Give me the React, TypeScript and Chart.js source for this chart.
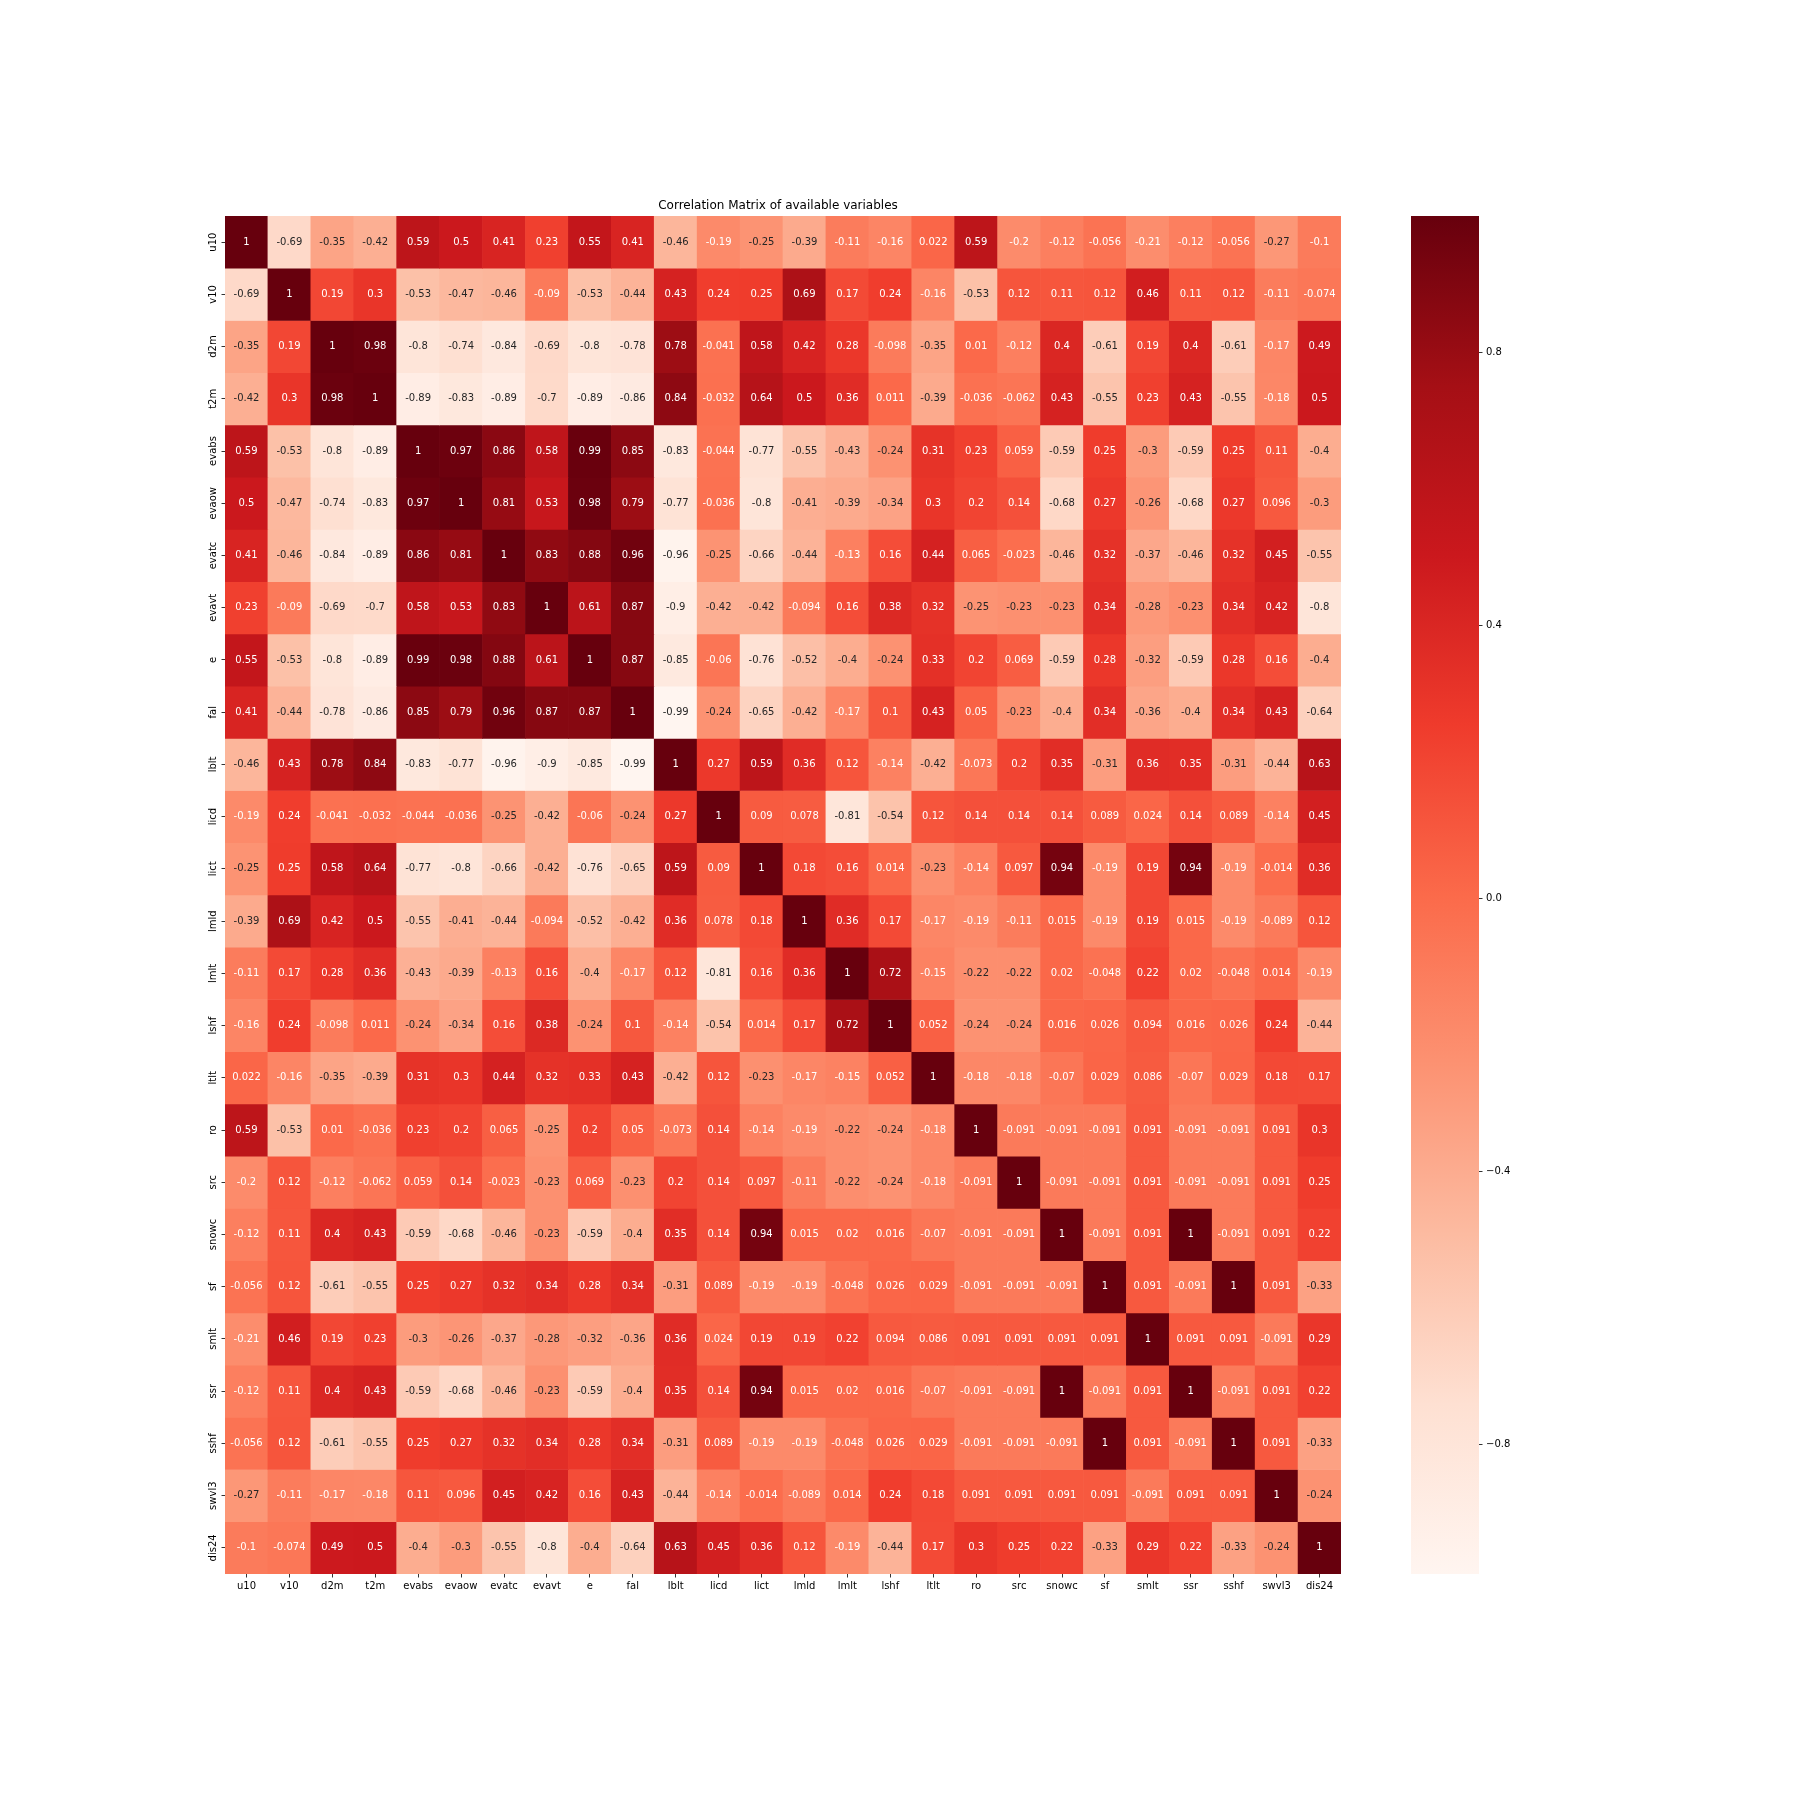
import React, { useEffect, useRef } from 'react';
import { Chart, registerables } from 'chart.js';

Chart.register(...registerables);

// ---------------- data ----------------
const variables = ['u10', 'v10', 'd2m', 't2m', 'evabs', 'evaow', 'evatc', 'evavt', 'e', 'fal', 'lblt', 'licd', 'lict', 'lmld', 'lmlt', 'lshf', 'ltlt', 'ro', 'src', 'snowc', 'sf', 'smlt', 'ssr', 'sshf', 'swvl3', 'dis24'];

const rowU10 = [1, -0.69, -0.35, -0.42, 0.59, 0.5, 0.41, 0.23, 0.55, 0.41, -0.46, -0.19, -0.25, -0.39, -0.11, -0.16, 0.022, 0.59, -0.2, -0.12, -0.056, -0.21, -0.12, -0.056, -0.27, -0.1];
const rowV10 = [-0.69, 1, 0.19, 0.3, -0.53, -0.47, -0.46, -0.09, -0.53, -0.44, 0.43, 0.24, 0.25, 0.69, 0.17, 0.24, -0.16, -0.53, 0.12, 0.11, 0.12, 0.46, 0.11, 0.12, -0.11, -0.074];
const rowD2m = [-0.35, 0.19, 1, 0.98, -0.8, -0.74, -0.84, -0.69, -0.8, -0.78, 0.78, -0.041, 0.58, 0.42, 0.28, -0.098, -0.35, 0.01, -0.12, 0.4, -0.61, 0.19, 0.4, -0.61, -0.17, 0.49];
const rowT2m = [-0.42, 0.3, 0.98, 1, -0.89, -0.83, -0.89, -0.7, -0.89, -0.86, 0.84, -0.032, 0.64, 0.5, 0.36, 0.011, -0.39, -0.036, -0.062, 0.43, -0.55, 0.23, 0.43, -0.55, -0.18, 0.5];
const rowEvabs = [0.59, -0.53, -0.8, -0.89, 1, 0.97, 0.86, 0.58, 0.99, 0.85, -0.83, -0.044, -0.77, -0.55, -0.43, -0.24, 0.31, 0.23, 0.059, -0.59, 0.25, -0.3, -0.59, 0.25, 0.11, -0.4];
const rowEvaow = [0.5, -0.47, -0.74, -0.83, 0.97, 1, 0.81, 0.53, 0.98, 0.79, -0.77, -0.036, -0.8, -0.41, -0.39, -0.34, 0.3, 0.2, 0.14, -0.68, 0.27, -0.26, -0.68, 0.27, 0.096, -0.3];
const rowEvatc = [0.41, -0.46, -0.84, -0.89, 0.86, 0.81, 1, 0.83, 0.88, 0.96, -0.96, -0.25, -0.66, -0.44, -0.13, 0.16, 0.44, 0.065, -0.023, -0.46, 0.32, -0.37, -0.46, 0.32, 0.45, -0.55];
const rowEvavt = [0.23, -0.09, -0.69, -0.7, 0.58, 0.53, 0.83, 1, 0.61, 0.87, -0.9, -0.42, -0.42, -0.094, 0.16, 0.38, 0.32, -0.25, -0.23, -0.23, 0.34, -0.28, -0.23, 0.34, 0.42, -0.8];
const rowE = [0.55, -0.53, -0.8, -0.89, 0.99, 0.98, 0.88, 0.61, 1, 0.87, -0.85, -0.06, -0.76, -0.52, -0.4, -0.24, 0.33, 0.2, 0.069, -0.59, 0.28, -0.32, -0.59, 0.28, 0.16, -0.4];
const rowFal = [0.41, -0.44, -0.78, -0.86, 0.85, 0.79, 0.96, 0.87, 0.87, 1, -0.99, -0.24, -0.65, -0.42, -0.17, 0.1, 0.43, 0.05, -0.23, -0.4, 0.34, -0.36, -0.4, 0.34, 0.43, -0.64];
const rowLblt = [-0.46, 0.43, 0.78, 0.84, -0.83, -0.77, -0.96, -0.9, -0.85, -0.99, 1, 0.27, 0.59, 0.36, 0.12, -0.14, -0.42, -0.073, 0.2, 0.35, -0.31, 0.36, 0.35, -0.31, -0.44, 0.63];
const rowLicd = [-0.19, 0.24, -0.041, -0.032, -0.044, -0.036, -0.25, -0.42, -0.06, -0.24, 0.27, 1, 0.09, 0.078, -0.81, -0.54, 0.12, 0.14, 0.14, 0.14, 0.089, 0.024, 0.14, 0.089, -0.14, 0.45];
const rowLict = [-0.25, 0.25, 0.58, 0.64, -0.77, -0.8, -0.66, -0.42, -0.76, -0.65, 0.59, 0.09, 1, 0.18, 0.16, 0.014, -0.23, -0.14, 0.097, 0.94, -0.19, 0.19, 0.94, -0.19, -0.014, 0.36];
const rowLmld = [-0.39, 0.69, 0.42, 0.5, -0.55, -0.41, -0.44, -0.094, -0.52, -0.42, 0.36, 0.078, 0.18, 1, 0.36, 0.17, -0.17, -0.19, -0.11, 0.015, -0.19, 0.19, 0.015, -0.19, -0.089, 0.12];
const rowLmlt = [-0.11, 0.17, 0.28, 0.36, -0.43, -0.39, -0.13, 0.16, -0.4, -0.17, 0.12, -0.81, 0.16, 0.36, 1, 0.72, -0.15, -0.22, -0.22, 0.02, -0.048, 0.22, 0.02, -0.048, 0.014, -0.19];
const rowLshf = [-0.16, 0.24, -0.098, 0.011, -0.24, -0.34, 0.16, 0.38, -0.24, 0.1, -0.14, -0.54, 0.014, 0.17, 0.72, 1, 0.052, -0.24, -0.24, 0.016, 0.026, 0.094, 0.016, 0.026, 0.24, -0.44];
const rowLtlt = [0.022, -0.16, -0.35, -0.39, 0.31, 0.3, 0.44, 0.32, 0.33, 0.43, -0.42, 0.12, -0.23, -0.17, -0.15, 0.052, 1, -0.18, -0.18, -0.07, 0.029, 0.086, -0.07, 0.029, 0.18, 0.17];
const rowRo = [0.59, -0.53, 0.01, -0.036, 0.23, 0.2, 0.065, -0.25, 0.2, 0.05, -0.073, 0.14, -0.14, -0.19, -0.22, -0.24, -0.18, 1, -0.091, -0.091, -0.091, 0.091, -0.091, -0.091, 0.091, 0.3];
const rowSrc = [-0.2, 0.12, -0.12, -0.062, 0.059, 0.14, -0.023, -0.23, 0.069, -0.23, 0.2, 0.14, 0.097, -0.11, -0.22, -0.24, -0.18, -0.091, 1, -0.091, -0.091, 0.091, -0.091, -0.091, 0.091, 0.25];
const rowSnowc = [-0.12, 0.11, 0.4, 0.43, -0.59, -0.68, -0.46, -0.23, -0.59, -0.4, 0.35, 0.14, 0.94, 0.015, 0.02, 0.016, -0.07, -0.091, -0.091, 1, -0.091, 0.091, 1, -0.091, 0.091, 0.22];
const rowSf = [-0.056, 0.12, -0.61, -0.55, 0.25, 0.27, 0.32, 0.34, 0.28, 0.34, -0.31, 0.089, -0.19, -0.19, -0.048, 0.026, 0.029, -0.091, -0.091, -0.091, 1, 0.091, -0.091, 1, 0.091, -0.33];
const rowSmlt = [-0.21, 0.46, 0.19, 0.23, -0.3, -0.26, -0.37, -0.28, -0.32, -0.36, 0.36, 0.024, 0.19, 0.19, 0.22, 0.094, 0.086, 0.091, 0.091, 0.091, 0.091, 1, 0.091, 0.091, -0.091, 0.29];
const rowSsr = [-0.12, 0.11, 0.4, 0.43, -0.59, -0.68, -0.46, -0.23, -0.59, -0.4, 0.35, 0.14, 0.94, 0.015, 0.02, 0.016, -0.07, -0.091, -0.091, 1, -0.091, 0.091, 1, -0.091, 0.091, 0.22];
const rowSshf = [-0.056, 0.12, -0.61, -0.55, 0.25, 0.27, 0.32, 0.34, 0.28, 0.34, -0.31, 0.089, -0.19, -0.19, -0.048, 0.026, 0.029, -0.091, -0.091, -0.091, 1, 0.091, -0.091, 1, 0.091, -0.33];
const rowSwvl3 = [-0.27, -0.11, -0.17, -0.18, 0.11, 0.096, 0.45, 0.42, 0.16, 0.43, -0.44, -0.14, -0.014, -0.089, 0.014, 0.24, 0.18, 0.091, 0.091, 0.091, 0.091, -0.091, 0.091, 0.091, 1, -0.24];
const rowDis24 = [-0.1, -0.074, 0.49, 0.5, -0.4, -0.3, -0.55, -0.8, -0.4, -0.64, 0.63, 0.45, 0.36, 0.12, -0.19, -0.44, 0.17, 0.3, 0.25, 0.22, -0.33, 0.29, 0.22, -0.33, -0.24, 1];

const matrix = [rowU10, rowV10, rowD2m, rowT2m, rowEvabs, rowEvaow, rowEvatc, rowEvavt, rowE, rowFal, rowLblt, rowLicd, rowLict, rowLmld, rowLmlt, rowLshf, rowLtlt, rowRo, rowSrc, rowSnowc, rowSf, rowSmlt, rowSsr, rowSshf, rowSwvl3, rowDis24];

const colorbarTicks = [-0.8, -0.4, 0, 0.4, 0.8];
const chartTitle = 'Correlation Matrix of available variables';

// matplotlib "Reds" colormap anchor colours
const redsStops = ['#fff5f0', '#fee0d2', '#fcbba1', '#fc9272', '#fb6a4a', '#ef3b2c', '#cb181d', '#a50f15', '#67000d'];

const VMIN = Math.min(...matrix.map((r) => Math.min(...r)));
const VMAX = Math.max(...matrix.map((r) => Math.max(...r)));

const FONT = "'DejaVu Sans', 'Liberation Sans', sans-serif";

// ---------------- colour helpers ----------------
function hexToRgb(h: string): number[] {
  return [parseInt(h.slice(1, 3), 16), parseInt(h.slice(3, 5), 16), parseInt(h.slice(5, 7), 16)];
}
const stopRgb = redsStops.map(hexToRgb);

function redsRgb(t: number): number[] {
  let idx = Math.floor(t * 256);
  if (idx > 255) idx = 255;
  if (idx < 0) idx = 0;
  const x = (idx / 255) * 8;
  const k = Math.min(Math.floor(x), 7);
  const f = x - k;
  const a = stopRgb[k];
  const b = stopRgb[k + 1];
  return [0, 1, 2].map((c) => a[c] + (b[c] - a[c]) * f);
}

function cellRgb(v: number): number[] {
  return redsRgb((v - VMIN) / (VMAX - VMIN));
}

function cellColor(v: number): string {
  const [r, g, b] = cellRgb(v);
  return `rgb(${Math.round(r)}, ${Math.round(g)}, ${Math.round(b)})`;
}

function textColor(v: number): string {
  const lin = cellRgb(v).map((c) => {
    const s = c / 255;
    return s <= 0.03928 ? s / 12.92 : Math.pow((s + 0.055) / 1.055, 2.4);
  });
  const lum = 0.2126 * lin[0] + 0.7152 * lin[1] + 0.0722 * lin[2];
  return lum > 0.408 ? '#262626' : '#ffffff';
}

// ---------------- plugins ----------------
const annotationPlugin = {
  id: 'cellAnnotations',
  afterDatasetsDraw(chart: any) {
    const ctx = chart.ctx;
    ctx.save();
    ctx.font = `10px ${FONT}`;
    ctx.textAlign = 'center';
    ctx.textBaseline = 'middle';
    matrix.forEach((row, j) => {
      const meta = chart.getDatasetMeta(j);
      meta.data.forEach((bar: any, i: number) => {
        const p = bar.getProps(['x', 'y', 'base'], true);
        ctx.fillStyle = textColor(row[i]);
        ctx.fillText(String(row[i]), p.x, (p.y + p.base) / 2);
      });
    });
    ctx.restore();
  },
};

const yLabelPlugin = {
  id: 'rotatedYLabels',
  afterDraw(chart: any) {
    const ctx = chart.ctx;
    const scale = chart.scales.y;
    ctx.save();
    ctx.font = `10px ${FONT}`;
    ctx.fillStyle = '#000000';
    ctx.textAlign = 'center';
    ctx.textBaseline = 'alphabetic';
    const xBase = chart.chartArea.left - 9;
    scale.ticks.forEach((t: any, i: number) => {
      const y = scale.getPixelForValue(t.value);
      ctx.save();
      ctx.translate(xBase, y);
      ctx.rotate(-Math.PI / 2);
      ctx.fillText(variables[i], 0, 0);
      ctx.restore();
    });
    ctx.restore();
  },
};

function colorbarFill(c: any) {
  const ch = c.chart;
  const y = ch && ch.scales ? ch.scales.y : null;
  if (!y) return redsStops[4];
  const bottom = y.getPixelForValue(VMIN);
  const top = y.getPixelForValue(VMAX);
  if (!Number.isFinite(bottom) || !Number.isFinite(top) || bottom === top) return redsStops[4];
  const g = ch.ctx.createLinearGradient(0, bottom, 0, top);
  redsStops.forEach((col, k) => g.addColorStop(k / 8, col));
  return g;
}

// ---------------- components ----------------
function Heatmap() {
  const ref = useRef<HTMLCanvasElement>(null);
  useEffect(() => {
    const canvas = ref.current;
    if (!canvas) return;
    const datasets = matrix.map((row, j) => ({
      label: variables[j],
      data: row.map(() => 1),
      backgroundColor: row.map((v) => cellColor(v)),
      borderWidth: 0,
      barPercentage: 1,
      categoryPercentage: 1,
      stack: 'rows',
    }));
    const chart = new Chart(canvas, {
      type: 'bar',
      data: { labels: variables, datasets },
      options: {
        animation: false,
        responsive: false,
        devicePixelRatio: 1,
        events: [],
        layout: { padding: { top: 198.6, left: 215, right: 459, bottom: 196 } },
        plugins: {
          legend: { display: false },
          tooltip: { enabled: false },
          title: {
            display: true,
            text: chartTitle,
            color: '#000000',
            font: { family: FONT, size: 12, weight: 'normal', lineHeight: 1.2 },
            padding: { top: 0, bottom: 3 },
          },
        },
        scales: {
          x: {
            type: 'category',
            stacked: true,
            offset: true,
            border: { display: false },
            grid: {
              offset: false,
              drawOnChartArea: false,
              drawTicks: true,
              tickLength: 3.5,
              tickWidth: 0.8,
              tickColor: '#000000',
            },
            ticks: {
              color: '#000000',
              font: { family: FONT, size: 10 },
              padding: 3,
              maxRotation: 0,
              minRotation: 0,
              autoSkip: false,
            },
            afterFit: (s: any) => {
              s.height = 30;
            },
          },
          y: {
            type: 'linear',
            stacked: true,
            reverse: true,
            min: 0,
            max: variables.length,
            border: { display: false },
            grid: {
              drawOnChartArea: false,
              drawTicks: true,
              tickLength: 3.5,
              tickWidth: 0.8,
              tickColor: '#000000',
            },
            ticks: { display: false },
            afterBuildTicks: (s: any) => {
              s.ticks = variables.map((_, i) => ({ value: i + 0.5 }));
            },
            afterFit: (s: any) => {
              s.width = 10;
            },
          },
        },
      } as any,
      plugins: [annotationPlugin, yLabelPlugin],
    });
    return () => chart.destroy();
  }, []);
  return (
    <canvas
      ref={ref}
      width={1800}
      height={1800}
      style={{ position: 'absolute', left: 0, top: 0, width: 1800, height: 1800 }}
    />
  );
}

function Colorbar() {
  const ref = useRef<HTMLCanvasElement>(null);
  useEffect(() => {
    const canvas = ref.current;
    if (!canvas) return;
    const chart = new Chart(canvas, {
      type: 'bar',
      data: {
        labels: ['colorbar'],
        datasets: [
          {
            data: [[VMIN, VMAX]],
            borderWidth: 0,
            barPercentage: 1,
            categoryPercentage: 1,
            backgroundColor: colorbarFill,
          } as any,
        ],
      },
      options: {
        animation: false,
        responsive: false,
        devicePixelRatio: 1,
        events: [],
        layout: { padding: { top: 216, left: 11, right: 0, bottom: 226 } },
        plugins: { legend: { display: false }, tooltip: { enabled: false }, title: { display: false } },
        scales: {
          x: { display: false, offset: true },
          y: {
            type: 'linear',
            position: 'right',
            min: VMIN,
            max: VMAX,
            border: { display: false },
            grid: {
              drawOnChartArea: false,
              drawTicks: true,
              tickLength: 3.5,
              tickWidth: 0.8,
              tickColor: '#000000',
            },
            ticks: {
              color: '#000000',
              font: { family: FONT, size: 10 },
              padding: 3.5,
              callback: (v: any) => {
                const n = Number(v);
                if (Math.abs(n) < 1e-9) return '0.0';
                return (n < 0 ? '\u2212' : '') + Math.abs(n).toFixed(1);
              },
            },
            afterBuildTicks: (s: any) => {
              s.ticks = colorbarTicks.map((v) => ({ value: v }));
            },
            afterFit: (s: any) => {
              s.width = 81;
            },
          },
        },
      } as any,
    });
    return () => chart.destroy();
  }, []);
  return (
    <canvas
      ref={ref}
      width={160}
      height={1800}
      style={{ position: 'absolute', left: 1400, top: 0, width: 160, height: 1800 }}
    />
  );
}

export default function App() {
  return (
    <div style={{ position: 'absolute', left: 0, top: 0, width: 1800, height: 1800, background: '#ffffff' }}>
      <Heatmap />
      <Colorbar />
    </div>
  );
}
